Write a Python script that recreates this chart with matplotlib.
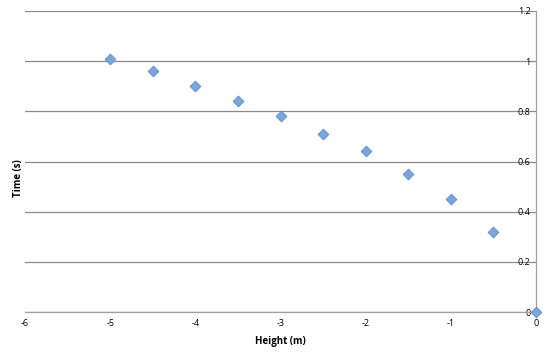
import matplotlib
matplotlib.use('Agg')
import matplotlib.pyplot as plt

# data
height = [-5, -4.5, -4, -3.5, -3, -2.5, -2, -1.5, -1, -0.5, 0]
time_s = [1.01, 0.96, 0.90, 0.84, 0.78, 0.71, 0.64, 0.55, 0.45, 0.32, 0.0]
xticks = [-6, -5, -4, -3, -2, -1, 0]
yticks = [0, 0.2, 0.4, 0.6, 0.8, 1, 1.2]
ylabels = ['0', '0.2', '0.4', '0.6', '0.8', '1', '1.2']

plt.rcParams['font.family'] = ['Open Sans', 'DejaVu Sans']

fig = plt.figure(figsize=(5.45, 3.56), dpi=100)
ax = fig.add_axes([25 / 545, 44 / 356, 511 / 545, 301 / 356])

ax.scatter(height, time_s, marker='D', s=30, color='#79a5e0',
           edgecolors='#5b8bd0', linewidths=0.6, zorder=3, clip_on=False)

ax.set_xlim(-6, 0)
ax.set_ylim(0, 1.2)
ax.set_xticks(xticks)
ax.set_xticklabels([str(t) for t in xticks])
ax.set_yticks(yticks)
ax.set_yticklabels(ylabels)

ax.yaxis.tick_right()
ax.tick_params(axis='y', length=0, pad=-4, labelsize=6.5)
for lab in ax.get_yticklabels():
    lab.set_horizontalalignment('right')
ax.tick_params(axis='x', length=0, pad=5, labelsize=6.5)

ax.grid(axis='y', color='#8c8c8c', linewidth=0.9)
ax.set_axisbelow(True)
for s in ['top', 'left']:
    ax.spines[s].set_visible(False)
for s in ['right', 'bottom']:
    ax.spines[s].set_color('#a0a0a0')
    ax.spines[s].set_linewidth(0.9)

ax.set_xlabel('Height (m)', fontsize=7, fontweight='bold', labelpad=6)
fig.text(18 / 545, 0.5, 'Time (s)', rotation=90, fontsize=7,
         fontweight='bold', ha='center', va='center')

fig.savefig('out.png', dpi=100)
